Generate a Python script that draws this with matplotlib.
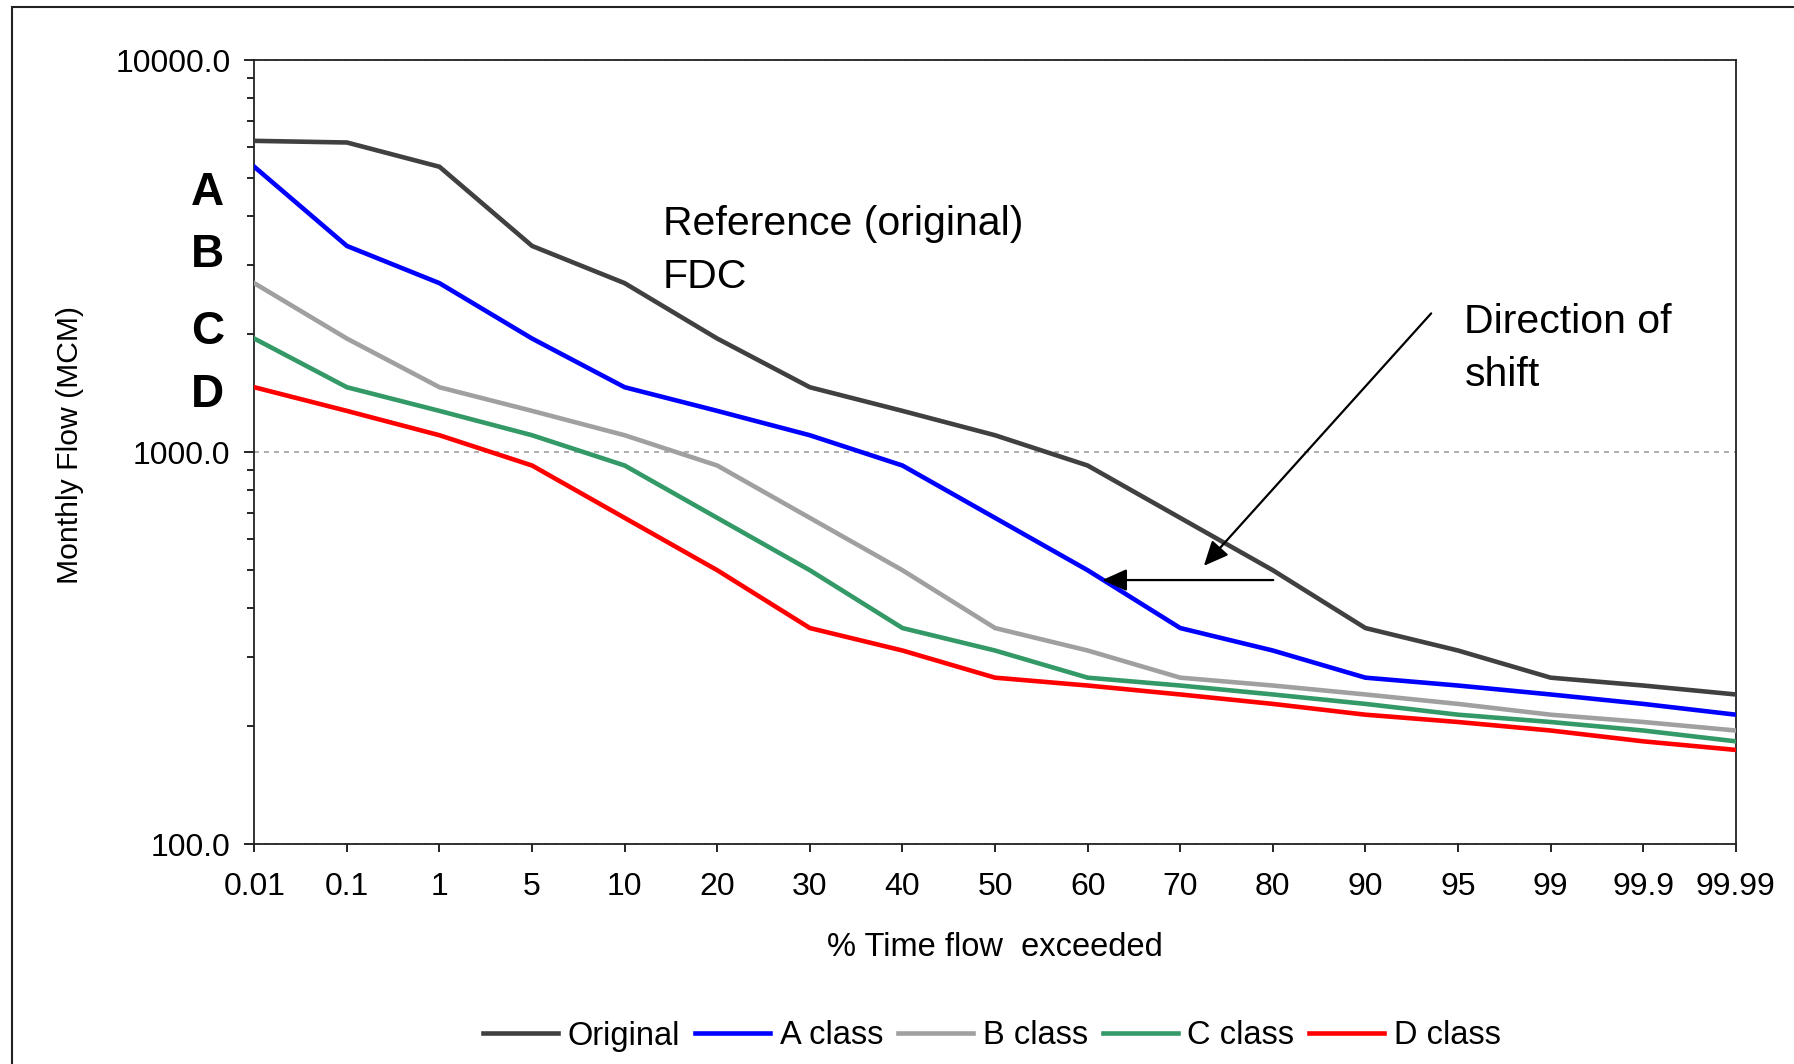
import numpy as np
import matplotlib
matplotlib.use('Agg')
import matplotlib.pyplot as plt
from matplotlib.patches import Rectangle
from matplotlib.ticker import FixedLocator, LogLocator, FuncFormatter, NullFormatter

plt.rcParams['font.family'] = ['Liberation Sans', 'DejaVu Sans']

# % time flow exceeded (categorical axis)
pct_labels = ['0.01', '0.1', '1', '5', '10', '20', '30', '40', '50', '60',
              '70', '80', '90', '95', '99', '99.9', '99.99']

# Monthly flow (MCM)
original = [6230, 6170, 5350, 3360, 2700, 1950, 1465, 1275, 1105, 925,
            680, 500, 356, 312, 266, 254, 241]
a_class = [5350, 3360, 2700, 1950, 1465, 1275, 1105, 925, 680, 500,
           356, 312, 266, 254, 241, 228, 214]
b_class = [2700, 1950, 1465, 1275, 1105, 925, 680, 500, 356, 312,
           266, 254, 241, 228, 214, 205, 195]
c_class = [1950, 1465, 1275, 1105, 925, 680, 500, 356, 312, 266,
           254, 241, 228, 214, 205, 195, 183]
d_class = [1465, 1275, 1105, 925, 680, 500, 356, 312, 266, 254,
           241, 228, 214, 205, 195, 183, 174]

series_names = ['Original', 'A class', 'B class', 'C class', 'D class']
series_colors = ['#404040', '#0000FF', '#A0A0A0', '#339966', '#FF0000']
class_letters = ['A', 'B', 'C', 'D']

W, H = 1794, 1064
fig = plt.figure(figsize=(W / 100, H / 100), dpi=100)

# outer frame (cut off at right and bottom like the source image)
fig.add_artist(Rectangle((12 / W, -0.05), 1.2, 1 - 7 / H + 0.05,
                         transform=fig.transFigure, fill=False,
                         edgecolor='#222222', lw=1.5, clip_on=False))

left, right, top, bottom = 254.3, 1735.8, 60.3, 844.2
ax = fig.add_axes([left / W, 1 - bottom / H, (right - left) / W, (bottom - top) / H])

x = np.arange(len(pct_labels))
all_series = [original, a_class, b_class, c_class, d_class]
for vals, name, color in zip(all_series, series_names, series_colors):
    ax.plot(x, vals, color=color, lw=3.3, label=name, zorder=3)

ax.set_yscale('log')
ax.set_ylim(100, 10000)
ax.set_xlim(0, len(pct_labels) - 1)

ax.xaxis.set_major_locator(FixedLocator(x))
ax.set_xticklabels(pct_labels)
ax.yaxis.set_major_locator(FixedLocator([100, 1000, 10000]))
ax.yaxis.set_major_formatter(FuncFormatter(lambda v, p: f'{v:.1f}'))
ax.yaxis.set_minor_locator(LogLocator(base=10, subs=np.arange(2, 10)))
ax.yaxis.set_minor_formatter(NullFormatter())

ax.tick_params(axis='x', direction='out', length=5.8, width=1.2, pad=14, labelsize=23)
ax.tick_params(axis='y', which='major', direction='out', length=7.2, width=1.2, pad=10, labelsize=23)
ax.tick_params(axis='y', which='minor', direction='out', length=4.7, width=1.2)

for sp in ax.spines.values():
    sp.set_color('#222222')
    sp.set_linewidth(1.3)

ax.yaxis.grid(True, which='major', color='#A0A0A0', lw=1.2, linestyle=(0, (3, 3)))
ax.set_axisbelow(True)

# annotations
ax.text(0.2759, 0.815, 'Reference (original)\nFDC', transform=ax.transAxes,
        fontsize=29.5, ha='left', va='top', linespacing=1.5)
ax.text(0.8168, 0.690, 'Direction of\nshift', transform=ax.transAxes,
        fontsize=29.5, ha='left', va='top', linespacing=1.5)

head = '-|>,head_length=0.6,head_width=0.27'
ax.annotate('', xy=(10.255, 513), xytext=(12.71, 2261),
            arrowprops=dict(arrowstyle=head, mutation_scale=25, lw=1.6,
                            color='black', shrinkA=0, shrinkB=0))
ax.annotate('', xy=(9.159, 472), xytext=(11.005, 472),
            arrowprops=dict(arrowstyle=head, mutation_scale=25, lw=1.6,
                            color='black', shrinkA=0, shrinkB=0))

# class letters beside the y axis
for letter, base_px in zip(class_letters, [205, 267, 344, 407]):
    fig.text(207.5 / W, 1 - base_px / H, letter, fontsize=33, fontweight='bold',
             ha='center', va='baseline')

fig.text(70 / W, 1 - 445 / H, 'Monthly Flow (MCM)', rotation=90,
         fontsize=21.7, ha='center', va='center')
fig.text(994.5 / W, 1 - 947 / H, '% Time flow  exceeded',
         fontsize=23.5, ha='center', va='center')

handles, labels = ax.get_legend_handles_labels()
fig.legend(handles, labels, loc='center', bbox_to_anchor=(992 / W, 1 - 1036 / H),
           ncol=5, frameon=False, fontsize=23.5, handlelength=2.3,
           handletextpad=0.3, columnspacing=0.45)

fig.savefig('out.png', dpi=100)
